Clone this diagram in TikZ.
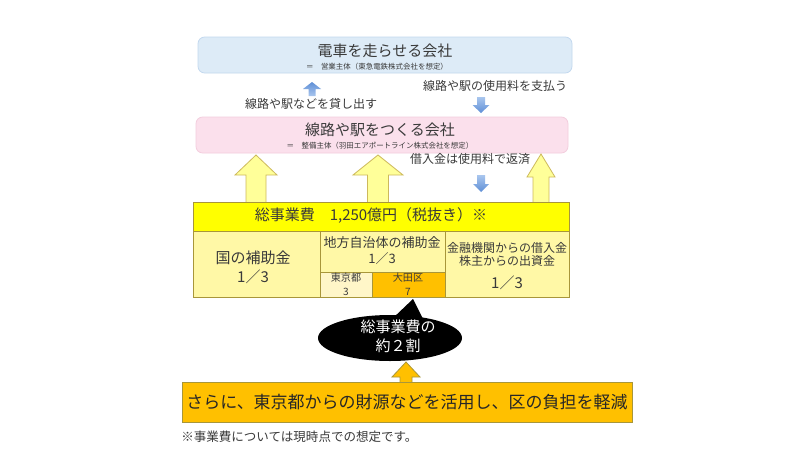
\documentclass[tikz,border=0pt]{standalone}
\usepackage{fontspec}
\setmainfont{Noto Sans CJK JP}
\usetikzlibrary{shapes.geometric}

\definecolor{trainblue}{HTML}{DDEBF7}
\definecolor{trainline}{HTML}{C2D8EE}
\definecolor{railpink}{HTML}{FBE0EC}
\definecolor{railline}{HTML}{F3CDDD}
\definecolor{arrowyellow}{HTML}{FFFF99}
\definecolor{arrowline}{HTML}{CDB95C}
\definecolor{costyellow}{HTML}{FFFF00}
\definecolor{celllight}{HTML}{FFF8A6}
\definecolor{cellpale}{HTML}{FFF6C8}
\definecolor{wardorange}{HTML}{FFC000}
\definecolor{boxline}{HTML}{A8963A}
\definecolor{flowlight}{HTML}{A9C6EE}
\definecolor{flowdark}{HTML}{5F8FD6}
\definecolor{textgray}{HTML}{3A3A3A}

% block arrows: [style]{x}{y base}{y tip}{half shaft}{half head}{head length}
\newcommand{\blockup}[7][]{%
  \draw[#1] ({#2-#5},#3) -- ({#2-#5},{#4+#7}) -- ({#2-#6},{#4+#7}) -- (#2,#4)
    -- ({#2+#6},{#4+#7}) -- ({#2+#5},{#4+#7}) -- ({#2+#5},#3) -- cycle;}
\newcommand{\blockdown}[7][]{%
  \draw[#1] ({#2-#5},#3) -- ({#2-#5},{#4-#7}) -- ({#2-#6},{#4-#7}) -- (#2,#4)
    -- ({#2+#6},{#4-#7}) -- ({#2+#5},{#4-#7}) -- ({#2+#5},#3) -- cycle;}

\begin{document}
\begin{tikzpicture}[x=0.75pt,y=-0.75pt,
  every node/.style={inner sep=0pt},
  boxsize/.style 2 args={minimum width=#1*0.75pt, minimum height=#2*0.75pt},
  company/.style={rounded corners=5pt, line width=0.6pt},
  cell/.style={draw=boxline, line width=0.6pt},
  bigtext/.style={text=textgray, font=\fontsize{11.25}{13}\selectfont},
  midtext/.style={text=textgray, font=\fontsize{9.75}{11}\selectfont},
  flowtext/.style={text=textgray, font=\fontsize{9}{10}\selectfont},
  smalltext/.style={text=textgray, font=\fontsize{7.6}{8.5}\selectfont},
  tinytext/.style={text=textgray, font=\fontsize{5.6}{6.5}\selectfont},
  yellowarrow/.style={fill=arrowyellow, draw=arrowline, line width=0.6pt},
  flowup/.style={top color=flowdark, bottom color=flowlight, draw=none},
  flowdown/.style={top color=flowlight, bottom color=flowdark, draw=none}]

  \fill[white] (0,0) rectangle (800,450);
  \useasboundingbox (0,0) rectangle (800,450);

  %% ---- operating company ----
  \node[company, fill=trainblue, draw=trainline, boxsize={374}{36}] (operator) at (385,55) {};
  \node[bigtext] (operatorname) at (385,51) {電車を走らせる会社};
  \node[tinytext] (operatornote) at (377,67) {＝\quad 営業主体（東急電鉄株式会社を想定）};

  % flows between the two companies
  \blockup[flowup]{312}{96}{82}{3.5}{9}{7}
  \node[flowtext] (lendlabel) at (311,104) {線路や駅などを貸し出す};
  \node[flowtext] (feelabel) at (495,86) {線路や駅の使用料を支払う};
  \blockdown[flowdown]{481}{97}{113}{4}{8.5}{8}

  %% ---- infrastructure company ----
  \node[company, fill=railpink, draw=railline, boxsize={372}{36}] (builder) at (382,135) {};
  \node[bigtext] (buildername) at (380,130) {線路や駅をつくる会社};
  \node[tinytext] (buildernote) at (380,146) {＝\quad 整備主体（羽田エアポートライン株式会社を想定）};

  \node[flowtext] (repaylabel) at (470,159) {借入金は使用料で返済};
  \blockdown[flowdown]{481}{175}{192}{4}{8}{8}

  % yellow arrows from the funding table
  \blockup[yellowarrow]{256}{203}{155}{10}{21}{20}
  \blockup[yellowarrow]{378}{203}{155}{10.5}{25}{20}
  \blockup[yellowarrow]{541}{203}{154}{8}{14}{23}

  %% ---- funding table ----
  \node[cell, fill=costyellow, boxsize={376}{29}] (total) at (381,216.5) {};
  \node[bigtext] (totallabel) at (371,216) {総事業費　1,250億円（税抜き）※};

  \node[cell, fill=celllight, boxsize={127}{66}] (state) at (256.5,264) {};
  \node[bigtext] (statename) at (253,258) {国の補助金};
  \node[bigtext] (stateshare) at (253,277) {1／3};

  \node[cell, fill=celllight, boxsize={125}{41}] (local) at (382.5,251.5) {};
  \node[midtext] (localname) at (382,243) {地方自治体の補助金};
  \node[midtext] (localshare) at (382,259) {1／3};

  \node[cell, fill=cellpale, boxsize={52}{25}] (tokyo) at (346,284.5) {};
  \node[smalltext] (tokyoname) at (346,277.5) {東京都};
  \node[smalltext] (tokyoshare) at (346,292) {3};
  \node[cell, fill=wardorange, boxsize={73}{25}] (ota) at (408.5,284.5) {};
  \node[smalltext] (otaname) at (408,277.5) {大田区};
  \node[smalltext] (otashare) at (408,292) {7};

  \node[cell, fill=celllight, boxsize={124}{66}] (loans) at (507,264) {};
  \node[flowtext] (loansname) at (507,248) {金融機関からの借入金};
  \node[flowtext] (equityname) at (507,261) {株主からの出資金};
  \node[bigtext] (loansshare) at (507,283) {1／3};

  %% ---- callout ----
  \fill (392,319) -- (413,299) -- (423,319) -- cycle;
  \node[ellipse, fill=black, boxsize={144}{46}] (share) at (390,338) {};
  \node[bigtext, text=white] (shareline1) at (398,327) {総事業費の};
  \node[bigtext, text=white] (shareline2) at (398,346) {約２割};

  %% ---- reduction box ----
  \blockup[fill=wardorange, draw=boxline, line width=0.6pt]{406}{384}{362}{6}{14}{15}
  \node[fill=wardorange, draw=boxline, line width=0.6pt, boxsize={450}{40},
        text=black!85, font=\fontsize{12.75}{14}\selectfont] (burden) at (407,402)
        {さらに、東京都からの財源などを活用し、区の負担を軽減};

  \node[anchor=west, text=textgray, font=\fontsize{9.4}{11}\selectfont] (footnote) at (181,437)
        {※事業費については現時点での想定です。};

\end{tikzpicture}
\end{document}
